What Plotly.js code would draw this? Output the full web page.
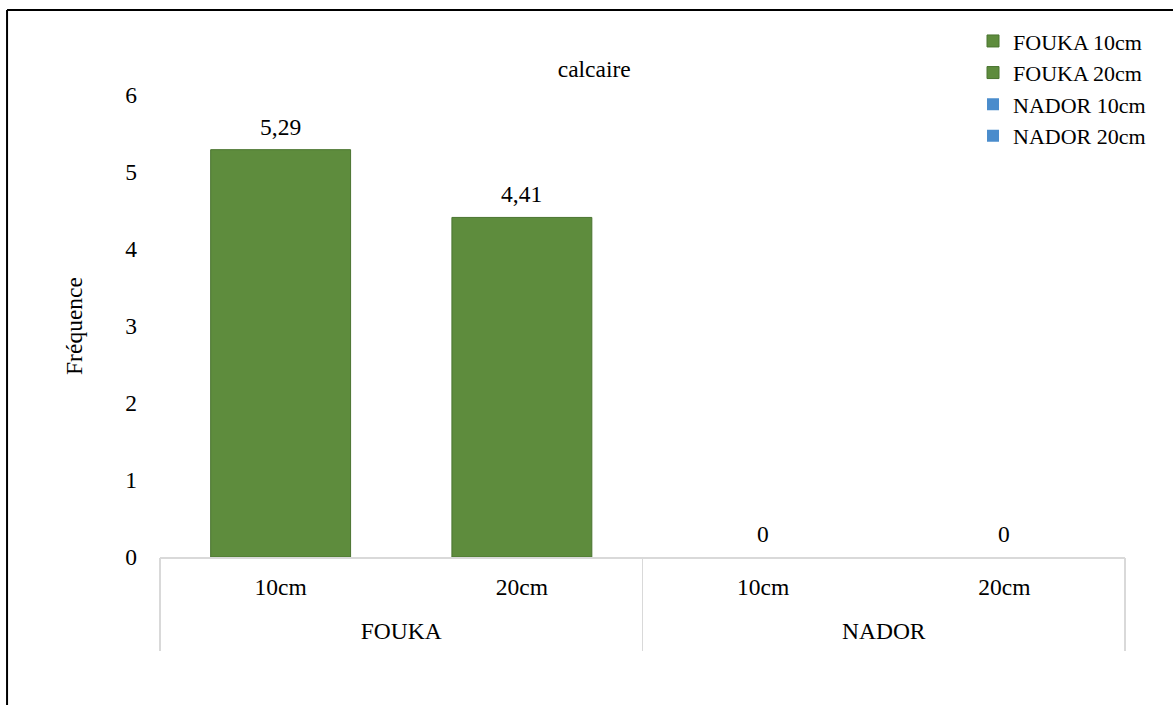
<!DOCTYPE html>
<html><head><meta charset="utf-8">
<script src="https://cdn.plot.ly/plotly-3.0.1.min.js"></script>
<style>html,body{margin:0;padding:0;background:#fff;}#chart{width:1173px;height:705px;}</style>
</head><body><div id="chart"></div>
<script>
const sites = ["FOUKA", "FOUKA", "NADOR", "NADOR"];
const depths = ["10cm", "20cm", "10cm", "20cm"];
const seriesNames = ["FOUKA 10cm", "FOUKA 20cm", "NADOR 10cm", "NADOR 20cm"];
const values = [5.29, 4.41, 0, 0];
const labels = ["5,29", "4,41", "0", "0"];
const colors = ["#5e8c3d", "#5e8c3d", "#4a8ccc", "#4a8ccc"];
const lineColors = ["#4a7430", "#4a7430", "#3a74ad", "#3a74ad"];

const font = "'Times New Roman', 'Liberation Serif', serif";
const FS = 23.5;
const idx = depths.map((d, i) => i);

// group centres and boundaries derived from the site list
const groups = [...new Set(sites)];
const groupCenters = groups.map(g => {
  const ii = idx.filter(i => sites[i] === g);
  return (ii[0] + ii[ii.length - 1]) / 2;
});
const groupEdges = [-0.5].concat(groups.map(g => {
  const ii = idx.filter(i => sites[i] === g);
  return ii[ii.length - 1] + 0.5;
}));

const traces = seriesNames.map((n, i) => ({
  type: "bar",
  name: n,
  x: [idx[i]],
  y: [values[i]],
  width: 0.58,
  marker: {color: colors[i], line: {color: lineColors[i], width: values[i] > 0 ? 1 : 0}},
  hoverinfo: "skip"
}));
// invisible helper trace so the group axis is drawn
traces.push({type: "scatter", x: groupCenters, y: [0, 0], xaxis: "x2", mode: "markers",
  marker: {opacity: 0}, showlegend: false, hoverinfo: "skip"});

const annotations = values.map((v, i) => ({
  x: idx[i], y: v, xref: "x", yref: "y",
  text: labels[i], showarrow: false,
  yanchor: "bottom", yshift: 8,
  font: {family: font, size: FS, color: "#000"}
}));

const layout = {
  width: 1173, height: 705,
  margin: {l: 160, r: 48, t: 95, b: 148},
  paper_bgcolor: "#fff", plot_bgcolor: "#fff",
  font: {family: font, size: FS, color: "#000"},
  barmode: "overlay",
  showlegend: true,
  title: {text: "calcaire", x: 0.45, xref: "paper", y: 0.903, yref: "container", yanchor: "middle", font: {family: font, size: FS, color: "#000"}},
  legend: {x: 0.8425, xanchor: "left", y: 1.162, yanchor: "top", font: {family: font, size: 22, color: "#000"}, bgcolor: "rgba(0,0,0,0)", tracegroupgap: 0},
  xaxis: {
    type: "linear", range: [-0.5, 3.5],
    tickmode: "array", tickvals: idx, ticktext: depths,
    showline: true, linecolor: "#d9d9d9", linewidth: 1.5,
    showgrid: false, zeroline: false, ticks: "",
    ticklabelstandoff: 8,
    tickfont: {family: font, size: FS, color: "#000"}
  },
  xaxis2: {
    type: "linear", range: [-0.5, 3.5], overlaying: "x", anchor: "y", side: "bottom",
    tickmode: "array", tickvals: groupCenters, ticktext: groups,
    showline: false, showgrid: false, zeroline: false, ticks: "",
    ticklabelstandoff: 57,
    tickfont: {family: font, size: FS, color: "#000"},
    minor: {tickmode: "array", tickvals: groupEdges, ticks: "outside", ticklen: 93, tickcolor: "#d9d9d9", tickwidth: 1.5, showgrid: false}
  },
  yaxis: {
    range: [0, 6], dtick: 1, tick0: 0,
    showgrid: false, zeroline: false, showline: false,
    ticks: "", ticklabelstandoff: 22,
    tickfont: {family: font, size: FS, color: "#000"},
    title: {text: "Fréquence", standoff: 36, font: {family: font, size: FS, color: "#000"}}
  },
  annotations: annotations,
  shapes: [
    {type: "line", xref: "paper", yref: "paper", x0: -0.1585, x1: 1.1, y0: 1.184, y1: 1.184, line: {color: "#000", width: 2}},
    {type: "line", xref: "paper", yref: "paper", x0: -0.1585, x1: -0.1585, y0: 1.184, y1: -0.4, line: {color: "#000", width: 2}}
  ]
};

Plotly.newPlot("chart", traces, layout, {displayModeBar: false, staticPlot: true});
</script></body></html>
